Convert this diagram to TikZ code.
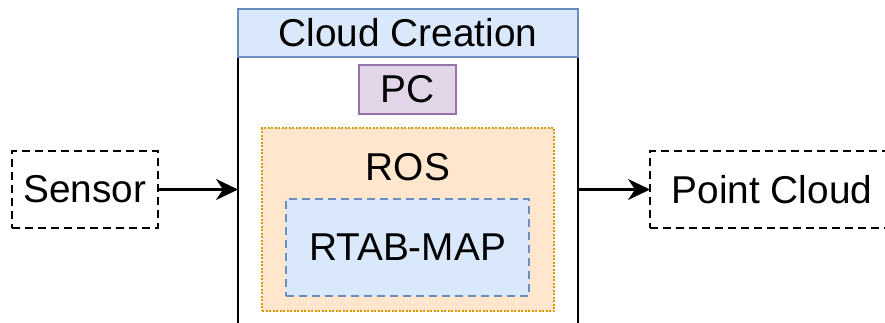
\documentclass[tikz,border=0pt]{standalone}
\usepackage{fontspec}
\setmainfont{Liberation Sans}
\usetikzlibrary{arrows.meta}
\definecolor{bluefill}{HTML}{DAE8FC}
\definecolor{bluedraw}{HTML}{6C8EBF}
\definecolor{purplefill}{HTML}{E1D5E7}
\definecolor{purpledraw}{HTML}{9673A6}
\definecolor{orangefill}{HTML}{FFE6CC}
\definecolor{orangedraw}{HTML}{D79B00}
\tikzset{
  base/.style={inner sep=0pt, outer sep=0pt, font=\fontsize{38.8}{42}\selectfont, line width=2pt},
  ioblock/.style={base, draw=black, dash pattern=on 8pt off 5pt, minimum width=146pt, minimum height=77pt},
  header/.style={base, draw=bluedraw, fill=bluefill, minimum width=340pt, minimum height=48pt},
  bodybox/.style={base, draw=black, line width=2.4pt, minimum width=340pt, minimum height=284pt},
  pcbox/.style={base, draw=purpledraw, fill=purplefill, minimum width=97pt, minimum height=49pt},
  rosbox/.style={base, draw=orangedraw, fill=orangefill, dash pattern=on 2pt off 1.5pt, minimum width=292pt, minimum height=183pt},
  rtabbox/.style={base, draw=bluedraw, fill=bluefill, dash pattern=on 8pt off 5pt, minimum width=243pt, minimum height=97pt},
  link/.style={line width=2.2pt, -{Stealth[length=22pt,width=21pt,inset=7pt]}},
}
\begin{document}
\begin{tikzpicture}[x=1pt,y=-1pt]
\useasboundingbox (0,0) rectangle (885,322);
\clip (0,0) rectangle (885,322);
\node[bodybox] (body) at (408,198) {};
\node[header] (head) at (408,33) {Cloud Creation};
\node[pcbox] (pc) at (407.5,89.5) {PC};
\node[rosbox] (ros) at (408,219.5) {};
\node[base] (roslabel) at (408,167) {ROS};
\node[rtabbox] (rtab) at (407.5,247.5) {RTAB-MAP};
\node[ioblock] (sensor) at (85,189.5) {Sensor};
\node[ioblock, minimum width=244pt] (pcl) at (772,189.5) {Point Cloud};
\draw[link] (sensor.east) -- (sensor.east -| body.west);
\draw[link] (pcl.west -| body.east) -- (pcl.west);
\end{tikzpicture}
\end{document}
